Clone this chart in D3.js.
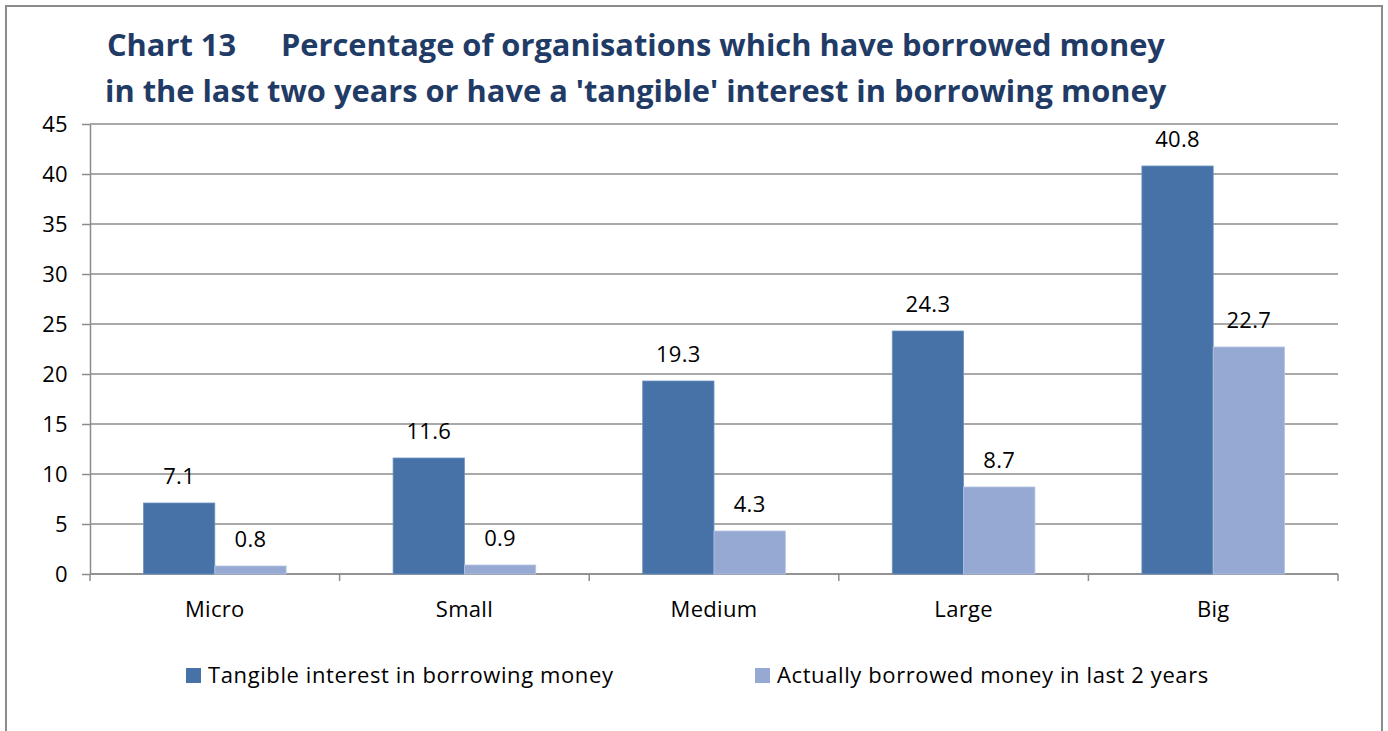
<!DOCTYPE html>
<html>
<head>
<meta charset="utf-8">
<script src="https://cdn.jsdelivr.net/npm/d3@7/dist/d3.min.js"></script>
<style>
  html, body { margin: 0; padding: 0; background: #ffffff; }
  svg { display: block; }
  text { font-family: "Open Sans", Lato, sans-serif; }
</style>
</head>
<body>
<svg id="chart" width="1388" height="731"></svg>
<script>
// Organisation size bands
const categories = ["Micro", "Small", "Medium", "Large", "Big"];
// Series values (% of organisations)
const tangibleInterest = [7.1, 11.6, 19.3, 24.3, 40.8];
const actuallyBorrowed = [0.8, 0.9, 4.3, 8.7, 22.7];
const seriesNames = ["Tangible interest in borrowing money", "Actually borrowed money in last 2 years"];
const yTicks = [0, 5, 10, 15, 20, 25, 30, 35, 40, 45];
const titleLines = ["Percentage of organisations which have borrowed money",
                    "in the last two years or have a 'tangible' interest in borrowing money"];

const colors = ["#4672A7", "#95A9D2"];
const strokes = ["#6E93C0", "#B4C4E2"];
const FONT = "'Open Sans', Lato, sans-serif";
const LABEL_SIZE = 22;
const LABEL_SPACING = "0.3px";
const LEGEND_SPACING = "0.6px";

const svg = d3.select("#chart");

// outer frame
svg.append("rect")
  .attr("x", 6).attr("y", 6).attr("width", 1376).attr("height", 740)
  .attr("fill", "#fff").attr("stroke", "#8c8c8c").attr("stroke-width", 2);

// title
const title = svg.append("g").attr("fill", "#1F3B66").attr("font-weight", "bold").attr("font-size", 30.8);
title.append("text").attr("x", 107).attr("y", 56).text("Chart 13");
title.append("text").attr("x", 281).attr("y", 56).text(titleLines[0]);
title.append("text").attr("x", 105).attr("y", 102).text(titleLines[1]);

const plot = { left: 90, right: 1338, top: 124, bottom: 574 };

const x0 = d3.scaleBand().domain(categories).range([plot.left, plot.right]).paddingInner(0).paddingOuter(0);
const bw = x0.bandwidth() / 3.5;
const x1 = d3.scaleBand().domain([0, 1]).range([0, 2 * bw]);
const y = d3.scaleLinear().domain([0, 45]).range([plot.bottom, plot.top]);

// horizontal gridlines
svg.append("g")
  .selectAll("line").data(yTicks).join("line")
  .attr("x1", plot.left).attr("x2", plot.right)
  .attr("y1", d => y(d)).attr("y2", d => y(d))
  .attr("stroke", "#8c8c8c").attr("stroke-width", 1.5);

// y axis
const yAxis = svg.append("g")
  .attr("transform", `translate(${plot.left},0)`)
  .call(d3.axisLeft(y).tickValues(yTicks).tickSize(8).tickPadding(14).tickSizeOuter(0));
yAxis.select(".domain").attr("stroke", "#8c8c8c").attr("stroke-width", 1.5);
yAxis.selectAll(".tick line").attr("stroke", "#8c8c8c").attr("stroke-width", 1.5);
yAxis.selectAll(".tick text").attr("font-size", LABEL_SIZE).attr("fill", "#000")
  .style("font-family", FONT).style("letter-spacing", LABEL_SPACING);

// x axis
const xAxis = svg.append("g")
  .attr("transform", `translate(0,${plot.bottom})`)
  .call(d3.axisBottom(x0).tickSize(0).tickPadding(27));
xAxis.select(".domain").remove();
xAxis.selectAll(".tick text").attr("font-size", LABEL_SIZE).attr("fill", "#000")
  .style("font-family", FONT).style("letter-spacing", LABEL_SPACING);
// category boundary ticks
const bounds = categories.map(c => x0(c)).concat([plot.right]);
svg.append("g").selectAll("line").data(bounds).join("line")
  .attr("x1", d => d).attr("x2", d => d)
  .attr("y1", plot.bottom).attr("y2", plot.bottom + 7)
  .attr("stroke", "#8c8c8c").attr("stroke-width", 1.5);
svg.append("line")
  .attr("x1", plot.left).attr("x2", plot.right)
  .attr("y1", plot.bottom).attr("y2", plot.bottom)
  .attr("stroke", "#8c8c8c").attr("stroke-width", 1.5);

// bars
const rows = categories.map((c, i) => ({ cat: c, vals: [tangibleInterest[i], actuallyBorrowed[i]] }));
const groups = svg.append("g").selectAll("g").data(rows).join("g")
  .attr("transform", d => `translate(${x0(d.cat) + 0.75 * bw},0)`);

groups.selectAll("rect").data(d => d.vals.map((v, s) => ({ v, s }))).join("rect")
  .attr("x", d => x1(d.s))
  .attr("width", bw)
  .attr("y", d => y(d.v))
  .attr("height", d => y(0) - y(d.v))
  .attr("fill", d => colors[d.s])
  .attr("stroke", d => strokes[d.s]).attr("stroke-width", 0.8);

groups.selectAll("text").data(d => d.vals.map((v, s) => ({ v, s }))).join("text")
  .attr("x", d => x1(d.s) + bw / 2)
  .attr("y", d => y(d.v) - 19)
  .attr("text-anchor", "middle")
  .attr("font-size", LABEL_SIZE).attr("fill", "#000")
  .style("letter-spacing", LABEL_SPACING)
  .text(d => d3.format(".1f")(d.v));

// legend
const legendX = [186, 755];
const legend = svg.append("g").selectAll("g").data(seriesNames).join("g")
  .attr("transform", (d, i) => `translate(${legendX[i]},668)`);
legend.append("rect").attr("width", 15).attr("height", 15)
  .attr("fill", (d, i) => colors[i]);
legend.append("text").attr("x", 22).attr("y", 15)
  .attr("font-size", LABEL_SIZE).attr("fill", "#000")
  .style("letter-spacing", LEGEND_SPACING).text(d => d);
</script>
</body>
</html>
